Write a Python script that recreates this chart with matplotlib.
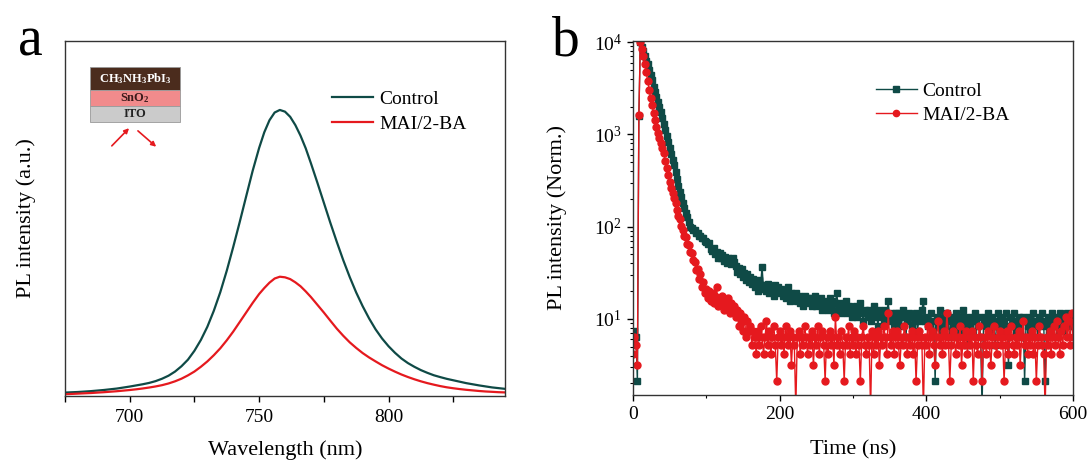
import numpy as np
import matplotlib
matplotlib.use("Agg")
import matplotlib.pyplot as plt
from matplotlib.patches import Rectangle, FancyArrowPatch
from matplotlib.ticker import MultipleLocator, LogLocator, NullFormatter

plt.rcParams['font.family'] = ['Liberation Serif', 'DejaVu Serif']
plt.rcParams['mathtext.fontset'] = 'custom'
plt.rcParams['mathtext.rm'] = 'Liberation Serif'
plt.rcParams['mathtext.bf'] = 'Liberation Serif:bold'
plt.rcParams['mathtext.it'] = 'Liberation Serif:italic'

# ---------------- Panel a: steady-state PL ----------------
wavelength_nm = [675, 677.5, 680, 682.5, 685, 687.5, 690, 692.5, 695, 697.5,
                 700, 702.5, 705, 707.5, 710, 712.5, 715, 717.5, 720, 722.5,
                 725, 727.5, 730, 732.5, 735, 737.5, 740, 742.5, 745, 747.5,
                 750, 752, 754, 756, 758, 760, 762, 764, 766, 768, 770,
                 772.5, 775, 777.5, 780, 782.5, 785, 787.5, 790, 792.5, 795,
                 797.5, 800, 802.5, 805, 807.5, 810, 812.5, 815, 817.5, 820,
                 822.5, 825, 827.5, 830, 832.5, 835, 837.5, 840, 842.5, 845]
pl_control = [0.012, 0.013, 0.014, 0.0155, 0.017, 0.019, 0.021, 0.0235, 0.026, 0.0295,
              0.033, 0.037, 0.041, 0.0457, 0.052, 0.0604, 0.071, 0.0853, 0.104, 0.127,
              0.158, 0.196, 0.242, 0.298, 0.363, 0.438, 0.521, 0.608, 0.698, 0.787,
              0.867, 0.922, 0.964, 0.991, 1.000, 0.994, 0.976, 0.947, 0.910, 0.866, 0.814,
              0.746, 0.676, 0.606, 0.539, 0.475, 0.416, 0.362, 0.314, 0.271, 0.233,
              0.201, 0.174, 0.151, 0.131, 0.115, 0.102, 0.0905, 0.081, 0.0725, 0.066,
              0.060, 0.055, 0.050, 0.045, 0.041, 0.037, 0.0335, 0.030, 0.0275, 0.025]
pl_mai = [0.0063, 0.0073, 0.0083, 0.0094, 0.0104, 0.0119, 0.0133, 0.0150, 0.0167, 0.0188,
          0.0209, 0.0234, 0.0263, 0.0296, 0.0334, 0.0379, 0.0438, 0.0513, 0.0605, 0.0721,
          0.0855, 0.1022, 0.1209, 0.1426, 0.1668, 0.1947, 0.2252, 0.2585, 0.2919, 0.3253,
          0.3565, 0.3774, 0.3962, 0.4107, 0.4170, 0.4149, 0.4087, 0.3974, 0.3836, 0.3657, 0.3461,
          0.3190, 0.2919, 0.2635, 0.2356, 0.2106, 0.1877, 0.1681, 0.1501, 0.1347, 0.1209,
          0.1076, 0.0959, 0.0851, 0.0751, 0.0663, 0.0584, 0.0513, 0.0450, 0.0396, 0.0346,
          0.0304, 0.0271, 0.0242, 0.0217, 0.0196, 0.0175, 0.0158, 0.0146, 0.0133, 0.0125]

# ---------------- Panel b: TRPL (raw counts, 2 ns bins, 0-600 ns) ----------------
bin_ns = 2
counts_control = [
    5, 7, 6, 2, 1500, 9500, 8445, 7510, 6675, 5935,
    5440, 4780, 4200, 3695, 3135, 2760, 2430, 2135, 1880, 1650,
    1420, 1225, 1055, 905, 780, 675, 580, 500, 440, 375,
    315, 262, 227, 197, 170, 150, 135, 120, 107, 95,
    92, 88, 87, 82, 81, 76, 75, 71, 71, 67,
    64, 61, 63, 55, 52, 56, 48, 51, 44, 49,
    43, 47, 40, 45, 38, 44, 41, 37, 43, 39,
    36, 31, 34, 29, 33, 27, 30, 25, 29, 24,
    27, 23, 26, 21, 24, 19, 25, 22, 35, 20,
    22, 19, 23, 18, 21, 20, 17, 22, 19, 21,
    18, 20, 17, 19, 16, 18, 21, 15, 18, 17,
    16, 18, 15, 17, 14, 16, 13, 17, 15, 16,
    14, 16, 13, 15, 17, 13, 15, 14, 16, 12,
    15, 13, 14, 12, 16, 13, 15, 11, 14, 18,
    12, 14, 11, 13, 12, 15, 11, 13, 12, 10,
    12, 11, 13, 10, 12, 14, 11, 9, 12, 11,
    10, 12, 9, 11, 13, 10, 11, 8, 12, 10,
    11, 9, 12, 10, 15, 9, 11, 10, 8, 11,
    9, 11, 10, 8, 12, 10, 6, 9, 11, 10,
    8, 10, 9, 11, 7, 10, 9, 12, 15, 9,
    10, 8, 9, 11, 7, 9, 2, 10, 8, 12,
    9, 7, 10, 8, 11, 9, 6, 10, 8, 9,
    11, 8, 10, 7, 9, 12, 8, 10, 5, 9,
    8, 10, 7, 11, 9, 8, 10, 6, 1, 9,
    10, 8, 11, 7, 9, 10, 8, 5, 9, 11,
    8, 10, 7, 9, 11, 8, 3, 10, 8, 9,
    11, 7, 9, 10, 8, 6, 10, 2, 9, 8,
    10, 7, 9, 11, 8, 9, 6, 10, 8, 11,
    9, 2, 8, 10, 7, 9, 11, 8, 10, 6,
    9, 11, 8, 10, 7, 9, 11, 8, 10, 9,
    8]
counts_mai = [
    4, 6, 5, 3, 1550, 9500, 7980, 6745, 5560, 4475,
    3600, 2900, 2355, 1965, 1635, 1365, 1135, 990, 870, 766,
    675, 590, 492, 410, 343, 286, 252, 221, 194, 170,
    144, 125, 114, 96, 88, 76, 73, 62, 60, 51,
    49, 41, 39, 32, 33, 26, 29, 21, 24, 18,
    20, 16, 19, 15, 18, 14, 17, 21, 13, 16,
    14, 17, 12, 15, 13, 16, 11, 14, 12, 13,
    10, 12, 8, 11, 9, 7, 10, 6, 9, 7,
    8, 5, 7, 6, 4, 7, 5, 8, 6, 4,
    6, 9, 5, 7, 4, 6, 8, 5, 2, 6,
    7, 5, 6, 4, 8, 6, 5, 7, 3, 6,
    5, 1, 6, 7, 4, 6, 5, 8, 6, 4,
    6, 5, 7, 3, 6, 5, 8, 4, 6, 7,
    5, 2, 6, 4, 7, 5, 6, 3, 10, 5,
    6, 4, 7, 5, 2, 6, 5, 8, 4, 6,
    5, 7, 4, 6, 5, 2, 6, 8, 5, 4,
    6, 5, 1, 7, 4, 6, 5, 7, 3, 6,
    5, 8, 6, 4, 11, 6, 5, 7, 4, 6,
    7, 5, 3, 6, 5, 8, 6, 4, 6, 5,
    7, 4, 6, 2, 5, 7, 6, 5, 1, 6,
    5, 8, 4, 6, 7, 5, 3, 6, 9, 5,
    6, 4, 7, 5, 11, 6, 2, 5, 7, 6,
    4, 6, 5, 8, 3, 6, 5, 7, 4, 6,
    5, 7, 2, 6, 5, 4, 8, 6, 2, 5,
    6, 4, 7, 5, 3, 6, 8, 5, 4, 6,
    7, 5, 6, 2, 5, 7, 4, 6, 8, 5,
    4, 6, 5, 7, 3, 6, 9, 5, 6, 4,
    6, 5, 7, 4, 6, 2, 5, 8, 6, 5,
    4, 1, 6, 5, 7, 4, 6, 8, 5, 9,
    6, 4, 7, 5, 8, 10, 6, 9, 5, 11,
    6]

labels = ["Control", "MAI/2-BA"]
c_dark = '#0f4a46'
c_red = '#e5191e'

fig = plt.figure(figsize=(10.88, 4.65), dpi=100)
axa = fig.add_axes([65/1088, 1-396/465, 440/1088, 355/465])
axb = fig.add_axes([633/1088, 1-395/465, 440/1088, 354.5/465])

# ---- panel a ----
axa.plot(wavelength_nm, pl_control, color=c_dark, lw=1.6, label=labels[0])
axa.plot(wavelength_nm, pl_mai, color=c_red, lw=1.6, label=labels[1])
axa.set_xlim(675, 845)
axa.set_ylim(0, 1.241)
axa.xaxis.set_major_locator(MultipleLocator(50))
axa.xaxis.set_minor_locator(MultipleLocator(25))
axa.set_yticks([])
axa.tick_params(axis='x', which='major', direction='out', length=4, width=1, labelsize=14, pad=5)
axa.tick_params(axis='x', which='minor', direction='out', length=4, width=1)
axa.set_xlabel("Wavelength (nm)", fontsize=16)
axa.xaxis.set_label_coords(0.5, -0.125)
axa.set_ylabel("PL intensity (a.u.)", fontsize=16)
axa.yaxis.set_label_coords(-0.065, 0.5)
for s in axa.spines.values():
    s.set_linewidth(1.0)
    s.set_color('#333333')
axa.legend(loc='upper left', bbox_to_anchor=(0.606, 0.861), frameon=False,
           fontsize=14, handlelength=2.15, handletextpad=0.3, labelspacing=0.38,
           borderpad=0, borderaxespad=0)

# inset schematic (device stack)
tr = axa.transAxes
x0, x1 = 0.057, 0.261
layers = [(0.862, 0.928, '#4b2c1d', r'$\mathbf{CH_3NH_3PbI_3}$', 'white'),
          (0.817, 0.862, '#f18b8c', r'$\mathbf{SnO_2}$', '#3a1a1a'),
          (0.772, 0.817, '#cbcbcb', 'ITO', '#222222')]
for yb, yt, col, txt, tcol in layers:
    axa.add_patch(Rectangle((x0, yb), x1 - x0, yt - yb, transform=tr,
                            facecolor=col, edgecolor='#999999', lw=0.6))
    axa.text((x0 + x1) / 2, (yb + yt) / 2, txt, transform=tr, ha='center',
             va='center', fontsize=9, fontweight='bold', color=tcol)
axa.add_patch(FancyArrowPatch((0.102, 0.699), (0.150, 0.760), transform=tr,
                              arrowstyle='-|>', mutation_scale=7, color=c_red, lw=1.2))
axa.add_patch(FancyArrowPatch((0.161, 0.752), (0.212, 0.697), transform=tr,
                              arrowstyle='-|>', mutation_scale=7, color=c_red, lw=1.2))

# ---- panel b ----
t_ctrl = np.arange(len(counts_control)) * bin_ns
t_mai = np.arange(len(counts_mai)) * bin_ns
norm_ctrl = np.array(counts_control, float) / max(counts_control) * 1e4
norm_mai = np.array(counts_mai, float) / max(counts_mai) * 1e4
axb.plot(t_ctrl, norm_ctrl, color=c_dark, lw=1.0, marker='s', ms=4.6,
         mec=c_dark, mfc=c_dark, label=labels[0])
axb.plot(t_mai, norm_mai, color=c_red, lw=1.0, marker='o', ms=5.0,
         mec=c_red, mfc=c_red, label=labels[1])
axb.set_yscale('log')
axb.set_xlim(0, 600)
axb.set_ylim(1.5, 1.04e4)
axb.xaxis.set_major_locator(MultipleLocator(200))
axb.xaxis.set_minor_locator(MultipleLocator(100))
axb.yaxis.set_major_locator(LogLocator(base=10, numticks=10))
axb.yaxis.set_minor_locator(LogLocator(base=10, subs=np.arange(2, 10), numticks=20))
axb.yaxis.set_minor_formatter(NullFormatter())
axb.tick_params(which='major', direction='out', length=4, width=1, labelsize=14, pad=4)
axb.tick_params(which='minor', direction='out', length=2.5, width=0.8)
axb.set_xlabel("Time (ns)", fontsize=16)
axb.xaxis.set_label_coords(0.5, -0.127)
axb.set_ylabel("PL intensity (Norm.)", fontsize=16)
axb.yaxis.set_label_coords(-0.15, 0.5)
for s in axb.spines.values():
    s.set_linewidth(1.0)
    s.set_color('#333333')
axb.legend(loc='upper left', bbox_to_anchor=(0.552, 0.881), frameon=False,
           fontsize=14, handlelength=2.1, handletextpad=0.3, labelspacing=0.29,
           borderpad=0, borderaxespad=0, markerscale=0.9)

fig.text(18/1088, 1-55/465, 'a', fontsize=40, ha='left', va='baseline')
fig.text(552/1088, 1-55/465, 'b', fontsize=40, ha='left', va='baseline')

fig.savefig('out.png', dpi=100)
